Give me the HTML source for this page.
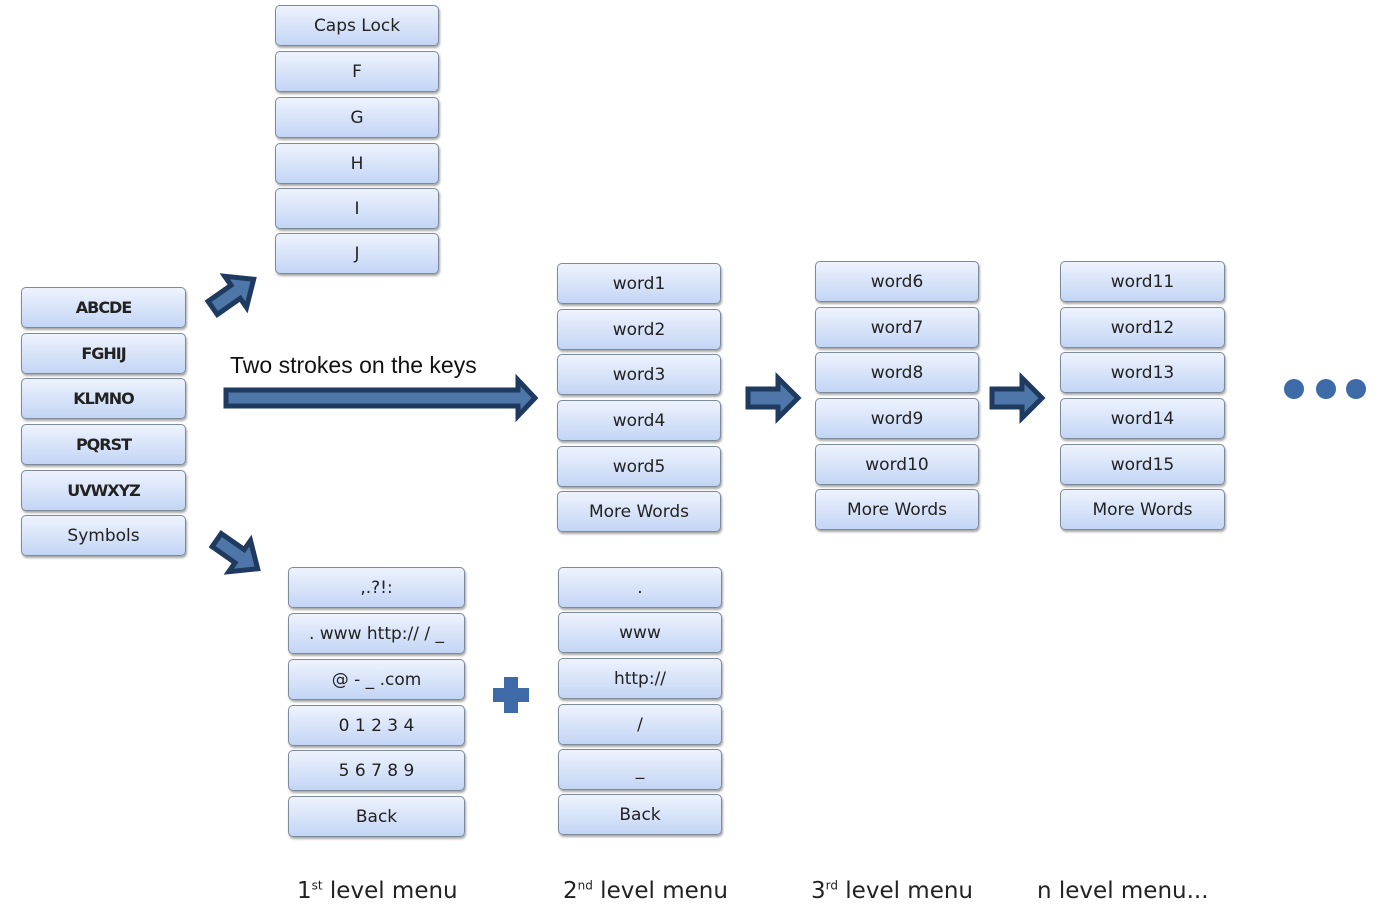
<!DOCTYPE html>
<html><head><meta charset="utf-8"><style>
body{margin:0;width:1382px;height:918px;background:#fff;position:relative;overflow:hidden;font-family:"DejaVu Sans","Liberation Sans",sans-serif}
.b{position:absolute;height:41px;border:1px solid #7d8a99;border-radius:5px;background:linear-gradient(#eef3fd,#c3d5f5);box-shadow:1px 2px 2px rgba(0,0,0,.35);display:flex;align-items:center;justify-content:center;font-size:17px;color:#222;box-sizing:border-box}
.bold{font-weight:bold;font-size:16px;letter-spacing:-1px}
.lab{position:absolute;top:878px;font-size:23px;color:#222}
.lab sup{font-size:12px}
</style></head><body>
<div class="b" style="left:275px;top:5px;width:164px">Caps Lock</div>
<div class="b" style="left:275px;top:51px;width:164px">F</div>
<div class="b" style="left:275px;top:97px;width:164px">G</div>
<div class="b" style="left:275px;top:143px;width:164px">H</div>
<div class="b" style="left:275px;top:188px;width:164px">I</div>
<div class="b" style="left:275px;top:233px;width:164px">J</div>
<div class="b bold" style="left:21px;top:287px;width:165px">ABCDE</div>
<div class="b bold" style="left:21px;top:333px;width:165px">FGHIJ</div>
<div class="b bold" style="left:21px;top:378px;width:165px">KLMNO</div>
<div class="b bold" style="left:21px;top:424px;width:165px">PQRST</div>
<div class="b bold" style="left:21px;top:470px;width:165px">UVWXYZ</div>
<div class="b" style="left:21px;top:515px;width:165px">Symbols</div>
<div class="b" style="left:557px;top:263px;width:164px">word1</div>
<div class="b" style="left:557px;top:309px;width:164px">word2</div>
<div class="b" style="left:557px;top:354px;width:164px">word3</div>
<div class="b" style="left:557px;top:400px;width:164px">word4</div>
<div class="b" style="left:557px;top:446px;width:164px">word5</div>
<div class="b" style="left:557px;top:491px;width:164px">More Words</div>
<div class="b" style="left:815px;top:261px;width:164px">word6</div>
<div class="b" style="left:815px;top:307px;width:164px">word7</div>
<div class="b" style="left:815px;top:352px;width:164px">word8</div>
<div class="b" style="left:815px;top:398px;width:164px">word9</div>
<div class="b" style="left:815px;top:444px;width:164px">word10</div>
<div class="b" style="left:815px;top:489px;width:164px">More Words</div>
<div class="b" style="left:1060px;top:261px;width:165px">word11</div>
<div class="b" style="left:1060px;top:307px;width:165px">word12</div>
<div class="b" style="left:1060px;top:352px;width:165px">word13</div>
<div class="b" style="left:1060px;top:398px;width:165px">word14</div>
<div class="b" style="left:1060px;top:444px;width:165px">word15</div>
<div class="b" style="left:1060px;top:489px;width:165px">More Words</div>
<div class="b" style="left:288px;top:567px;width:177px">,.?!:</div>
<div class="b" style="left:288px;top:613px;width:177px">. www http:// / _</div>
<div class="b" style="left:288px;top:659px;width:177px">@ - _ .com</div>
<div class="b" style="left:288px;top:705px;width:177px">0 1 2 3 4</div>
<div class="b" style="left:288px;top:750px;width:177px">5 6 7 8 9</div>
<div class="b" style="left:288px;top:796px;width:177px">Back</div>
<div class="b" style="left:558px;top:567px;width:164px">.</div>
<div class="b" style="left:558px;top:612px;width:164px">www</div>
<div class="b" style="left:558px;top:658px;width:164px">http://</div>
<div class="b" style="left:558px;top:704px;width:164px">/</div>
<div class="b" style="left:558px;top:749px;width:164px">_</div>
<div class="b" style="left:558px;top:794px;width:164px">Back</div>

<div style="position:absolute;left:230px;top:352px;font-size:23px;font-family:'Liberation Sans',sans-serif;color:#111">Two strokes on the keys</div>

<svg width="1382" height="918" style="position:absolute;left:0;top:0">
<g fill="#4f76a8" stroke="#1f3a5f" stroke-width="5" stroke-linejoin="miter">
<polygon points="226,390 518,390 518,380 535,398 518,416 518,406 226,406"/>
<polygon points="748,389 778,389 778,378 798,398 778,418 778,407 748,407"/>
<polygon points="992,389 1022,389 1022,378 1042,398 1022,418 1022,407 992,407"/>
<g transform="translate(234,293) rotate(-35)"><polygon points="-26,-8 2,-8 2,-19 24,0 2,19 2,8 -26,8"/></g>
<g transform="translate(238,555) rotate(35)"><polygon points="-26,-8 2,-8 2,-19 24,0 2,19 2,8 -26,8"/></g>
</g>
<g fill="#3e6aa8">
<rect x="504" y="677" width="14" height="36"/><rect x="493" y="688" width="36" height="14"/>
<circle cx="1294" cy="389" r="10"/><circle cx="1326" cy="389" r="10"/><circle cx="1356" cy="389" r="10"/>
</g>
</svg>
<div class="lab" style="left:297px">1<sup>st</sup> level menu</div>
<div class="lab" style="left:563px">2<sup>nd</sup> level menu</div>
<div class="lab" style="left:811px">3<sup>rd</sup> level menu</div>
<div class="lab" style="left:1037px">n level menu...</div>
</body></html>
